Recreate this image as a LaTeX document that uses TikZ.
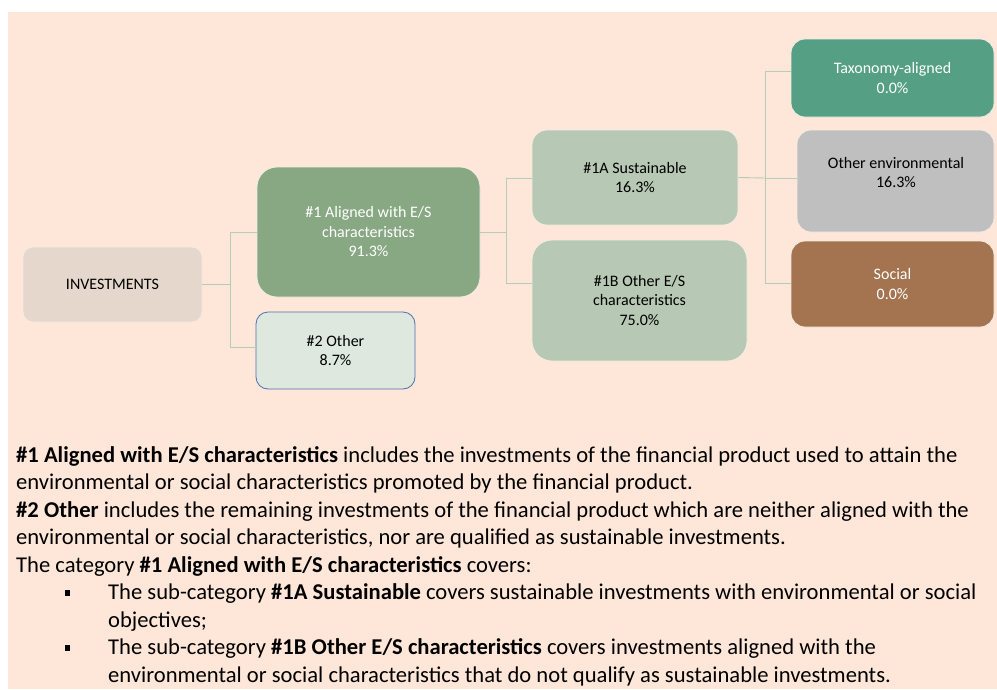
\documentclass[tikz,border=0pt]{standalone}
\usepackage{fontspec}
\setmainfont{Carlito}
\usetikzlibrary{calc}
\definecolor{bgpeach}{HTML}{FEE7D8}
\definecolor{invfill}{HTML}{E5D7CB}
\definecolor{alfill}{HTML}{88A783}
\definecolor{othfill}{HTML}{DFE8DF}
\definecolor{othdraw}{HTML}{4F6DB0}
\definecolor{subfill}{HTML}{B7C9B4}
\definecolor{taxfill}{HTML}{55A084}
\definecolor{envfill}{HTML}{BFBFBF}
\definecolor{socfill}{HTML}{A4734F}
\definecolor{conn}{HTML}{B5CCB5}
\definecolor{boxedge}{HTML}{F3ECE4}
\tikzset{
  box/.style={draw=boxedge, line width=0.8pt, inner sep=0pt, align=center,
    font=\fontsize{16}{19.5}\selectfont},
  link/.style={draw=conn, line width=0.9pt},
  bodytext/.style={anchor=base west, inner sep=0pt,
    font=\fontsize{22.6}{27.5}\selectfont},
  sq/.style={fill=black, inner sep=0pt, minimum width=5.5pt, minimum height=6pt}
}
\begin{document}
\begin{tikzpicture}[x=1pt,y=-1pt]
\useasboundingbox (0,0) rectangle (997,689);
\fill[white] (0,0) rectangle (997,689);
\fill[bgpeach] (8,12) rectangle (997,689);

% boxes
\node[box, fill=invfill, rounded corners=10pt, minimum width=179pt, minimum height=75pt] (inv) at (112.5,284.5) {INVESTMENTS};
\node[box, fill=alfill, text=white, rounded corners=20pt, minimum width=223pt, minimum height=130pt] (al) at (368.5,232) {\#1 Aligned with E/S\\characteristics\\91.3\%};
\node[box, draw=othdraw, fill=othfill, rounded corners=12pt, minimum width=159pt, minimum height=77pt] (oth) at (335.5,350.5) {\#2 Other\\8.7\%};
\node[box, fill=subfill, rounded corners=15pt, minimum width=206pt, minimum height=95pt] (sa) at (635,177.5) {\#1A Sustainable\\16.3\%};
\node[box, fill=subfill, rounded corners=20pt, minimum width=215pt, minimum height=121pt] (sb) at (639.5,300.5) {\#1B Other E/S\\characteristics\\75.0\%};
\node[box, fill=taxfill, text=white, rounded corners=14pt, minimum width=203pt, minimum height=78pt] (tax) at (892.5,78) {Taxonomy-aligned\\0.0\%};
\node[box, fill=envfill, rounded corners=14pt, minimum width=197pt, minimum height=102pt] (env) at (895.5,181) {};
\node[box, draw=none, fill=none] (envtext) at (896,172.5) {Other environmental\\16.3\%};
\node[box, fill=socfill, text=white, rounded corners=14pt, minimum width=203pt, minimum height=86pt] (soc) at (892.5,284) {Social\\0.0\%};

% connectors
\coordinate (j1) at (230,284.5);
\coordinate (j2) at (506,232);
\coordinate (j3) at (765,178);
\draw[link] (inv.east) -- (j1);
\draw[link] (j1) |- (al.west);
\draw[link] (j1) |- ([yshift=3.5pt]oth.west);
\draw[link] (al.east) -- (j2);
\draw[link] (j2) |- ([yshift=-0.5pt]sa.west);
\draw[link] (j2) |- ([yshift=17.5pt]sb.west);
\draw[link] (sa.east) -- (j3);
\draw[link] (j3) |- ([yshift=7pt]tax.west);
\draw[link] (j3) |- ([yshift=3pt]env.west);
\draw[link] (j3) |- ([yshift=1pt]soc.west);

% description text
\node[bodytext] (l1) at (16,462) {\textbf{\#1 Aligned with E/S characteristics} includes the investments of the financial product used to attain the};
\node[bodytext] (l2) at (16,489.5) {environmental or social characteristics promoted by the financial product.};
\node[bodytext] (l3) at (16,517) {\textbf{\#2 Other} includes the remaining investments of the financial product which are neither aligned with the};
\node[bodytext] (l4) at (16,544.5) {environmental or social characteristics, nor are qualified as sustainable investments.};
\node[bodytext] (l5) at (16,572) {The category \textbf{\#1 Aligned with E/S characteristics} covers:};
\node[sq] (b1) at (67.5,593) {};
\node[bodytext] (l6) at (108,599.5) {The sub-category \textbf{\#1A Sustainable} covers sustainable investments with environmental or social};
\node[bodytext] (l7) at (108,627) {objectives;};
\node[sq] (b2) at (67.5,648) {};
\node[bodytext] (l8) at (108,654.5) {The sub-category \textbf{\#1B Other E/S characteristics} covers investments aligned with the};
\node[bodytext] (l9) at (108,682) {environmental or social characteristics that do not qualify as sustainable investments.};
\end{tikzpicture}
\end{document}
